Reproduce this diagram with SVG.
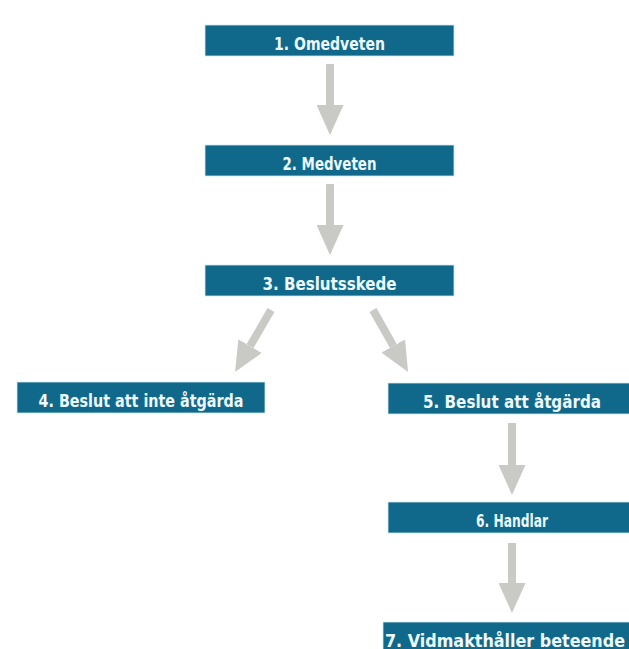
<svg xmlns="http://www.w3.org/2000/svg" width="629" height="649" viewBox="0 0 629 649">
  <defs>
    <style>
      .box { fill: #10698b; stroke: #cfeaf3; stroke-width: 0.8; }
      .lbl { font-family: "DejaVu Sans Condensed", "DejaVu Sans", "Liberation Sans", sans-serif; font-stretch: condensed; font-weight: bold; font-size: 17px; fill: #eefaff; text-anchor: middle; }
      .arr { stroke: #c9c9c5; stroke-width: 8; fill: none; stroke-linecap: butt; }
    </style>
    <marker id="head" markerUnits="userSpaceOnUse" markerWidth="30" markerHeight="27" refX="0" refY="13.5" orient="auto" viewBox="0 0 30 27">
      <path d="M0,0 L30,13.5 L0,27 Z" fill="#c9c9c5"/>
    </marker>
  </defs>
  <rect width="629" height="649" fill="#ffffff"/>

  <g id="connectors">
    <line class="arr" x1="330" y1="64" x2="330" y2="105" marker-end="url(#head)"/>
    <line class="arr" x1="330" y1="184" x2="330" y2="225" marker-end="url(#head)"/>
    <line class="arr" x1="271" y1="310" x2="250.1" y2="346.1" marker-end="url(#head)"/>
    <line class="arr" x1="373" y1="310" x2="393.3" y2="345.9" marker-end="url(#head)"/>
    <line class="arr" x1="512" y1="423" x2="512" y2="465" marker-end="url(#head)"/>
    <line class="arr" x1="512" y1="543" x2="512" y2="583" marker-end="url(#head)"/>
  </g>

  <g id="n1">
    <rect class="box" x="205" y="25" width="249" height="31"/>
    <text class="lbl" x="329.5" y="49.5" textLength="111" lengthAdjust="spacingAndGlyphs">1. Omedveten</text>
  </g>
  <g id="n2">
    <rect class="box" x="205" y="145" width="249" height="31"/>
    <text class="lbl" x="329.5" y="169.5" textLength="94" lengthAdjust="spacingAndGlyphs">2. Medveten</text>
  </g>
  <g id="n3">
    <rect class="box" x="205" y="265" width="249" height="31"/>
    <text class="lbl" x="329.5" y="289.5" textLength="134" lengthAdjust="spacingAndGlyphs">3. Beslutsskede</text>
  </g>
  <g id="n4">
    <rect class="box" x="17" y="382" width="248" height="31"/>
    <text class="lbl" x="141" y="406.5" textLength="205" lengthAdjust="spacingAndGlyphs">4. Beslut att inte åtgärda</text>
  </g>
  <g id="n5">
    <rect class="box" x="388" y="383" width="248" height="31"/>
    <text class="lbl" x="512" y="407.5" textLength="178" lengthAdjust="spacingAndGlyphs">5. Beslut att åtgärda</text>
  </g>
  <g id="n6">
    <rect class="box" x="388" y="502" width="248" height="31"/>
    <text class="lbl" x="512" y="526.5" textLength="72" lengthAdjust="spacingAndGlyphs">6. Handlar</text>
  </g>
  <g id="n7">
    <rect class="box" x="383" y="622" width="253" height="31"/>
    <text class="lbl" x="505" y="646.5" textLength="240" lengthAdjust="spacingAndGlyphs">7. Vidmakthåller beteende</text>
  </g>
</svg>
